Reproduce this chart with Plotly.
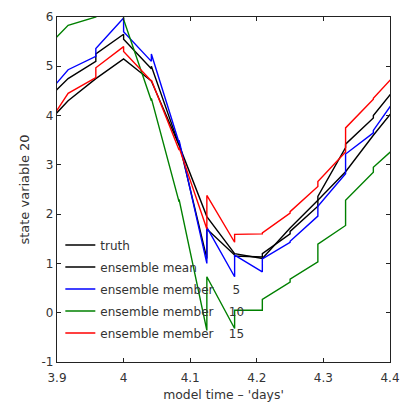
import plotly.graph_objects as go

# Model time in days (hourly assimilation steps)
times = [3.8750, 3.9167, 3.9583, 4.0000, 4.0417, 4.0833, 4.1250,
         4.1667, 4.2083, 4.2500, 4.2917, 4.3333, 4.3750, 4.4167]

# True state of variable 20
truth = [3.70, 4.30, 4.75, 5.15, 4.70, 3.40, 1.95,
         1.20, 1.10, 1.72, 2.28, 2.86, 3.60, 4.30]

# Ensemble mean: forecast (prior) and analysis (posterior) at each step
mean_prior = [4.20, 4.75, 5.10, 5.65, 4.95, 3.40, 1.10,
              1.17, 1.13, 1.60, 2.16, 3.35, 3.95, 4.70]
mean_post = [4.20, 4.75, 5.25, 5.55, 5.00, 3.45, 1.70,
             1.15, 1.20, 1.65, 2.36, 3.42, 4.00, 4.70]

# Ensemble member 5
m5_prior = [4.27, 4.93, 5.20, 5.98, 5.10, 3.45, 1.00,
            0.73, 0.83, 1.43, 1.96, 2.82, 3.65, 4.50]
m5_post = [4.27, 4.93, 5.36, 5.70, 5.25, 3.50, 1.73,
           1.17, 1.09, 1.45, 2.16, 3.22, 3.70, 4.50]

# Ensemble member 10
m10_prior = [5.25, 5.83, 6.00, 6.40, 4.30, 2.25, -0.36,
             -0.32, 0.05, 0.62, 1.03, 1.77, 2.85, 3.46]
m10_post = [5.25, 5.83, 6.05, 5.95, 4.35, 2.30, 0.73,
            0.05, 0.27, 0.68, 1.39, 2.28, 2.95, 3.46]

# Ensemble member 15
m15_prior = [3.60, 4.45, 4.77, 5.40, 4.70, 3.30, 1.70,
             1.43, 1.60, 2.02, 2.56, 3.26, 4.33, 4.96]
m15_post = [3.60, 4.45, 4.97, 5.30, 4.72, 3.35, 2.38,
            1.59, 1.62, 2.05, 2.66, 3.75, 4.35, 4.96]

x_ticks = [3.9, 4.0, 4.1, 4.2, 4.3, 4.4]
x_tick_labels = ["3.9", "4", "4.1", "4.2", "4.3", "4.4"]
y_ticks = [-1, 0, 1, 2, 3, 4, 5, 6]
y_tick_labels = ["-1", "0", "1", "2", "3", "4", "5", "6"]

NB = "\u00a0"
series = [
    ("truth", truth, truth, "#000000"),
    ("ensemble mean", mean_prior, mean_post, "#000000"),
    ("ensemble member" + NB * 5 + "5", m5_prior, m5_post, "#0000ff"),
    ("ensemble member" + NB * 4 + "10", m10_prior, m10_post, "#008000"),
    ("ensemble member" + NB * 4 + "15", m15_prior, m15_post, "#ff0000"),
]


def stepped(t, prior, post):
    """Forecast value then analysis value at every assimilation time."""
    xs, ys = [], []
    for ti, a, b in zip(t, prior, post):
        xs += [ti, ti]
        ys += [a, b]
    return xs, ys


FONT = "DejaVu Sans"
fig = go.Figure()
for i, (name, prior, post, color) in enumerate(series):
    xs, ys = stepped(times, prior, post)
    fig.add_trace(go.Scatter(
        x=xs, y=ys, mode="lines", name=name, legendgroup=str(i),
        line=dict(color=color, width=1.4),
    ))

axis_common = dict(
    showline=True, linecolor="#222222", linewidth=1.2, mirror="ticks",
    ticks="inside", ticklen=4, tickcolor="#222222", showgrid=False,
    zeroline=False, tickfont=dict(family=FONT, size=12, color="#333333"),
)
fig.update_xaxes(range=[3.9, 4.4], tickvals=x_ticks, ticktext=x_tick_labels,
                 ticklabelstandoff=4,
                 title=dict(text="model time \u2013 'days'", standoff=6,
                            font=dict(family=FONT, size=12.4, color="#333333")),
                 **axis_common)
fig.update_yaxes(range=[-1, 6], tickvals=y_ticks, ticktext=y_tick_labels,
                 title=dict(text="state variable 20", standoff=8,
                            font=dict(family=FONT, size=13, color="#333333")),
                 **axis_common)

fig.update_layout(
    width=410, height=409,
    margin=dict(l=57, r=13, t=10, b=47),
    paper_bgcolor="white", plot_bgcolor="white",
    font=dict(family=FONT, size=12, color="#333333"),
    legend=dict(x=0.01, y=0.381, xanchor="left", yanchor="top",
                bgcolor="rgba(0,0,0,0)", borderwidth=0,
                font=dict(family=FONT, size=12, color="#333333"),
                tracegroupgap=3, itemwidth=30),
    showlegend=True,
)

fig.write_html("out.html")
